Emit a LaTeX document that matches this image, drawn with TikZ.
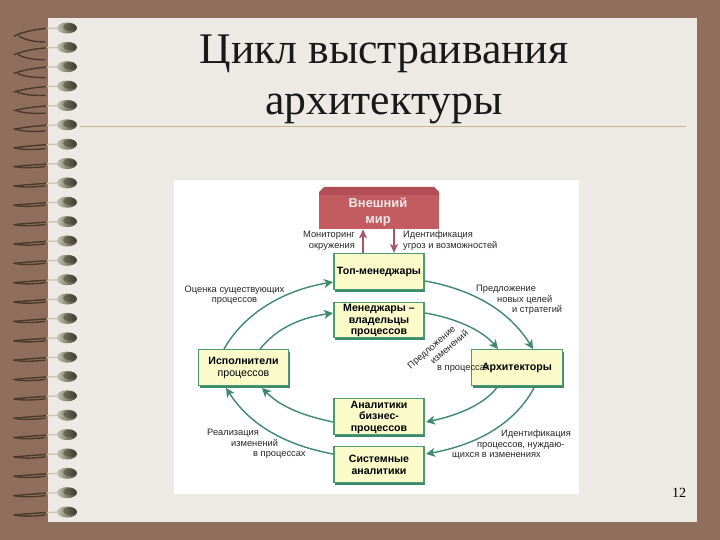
\documentclass[tikz,border=0pt]{standalone}
\usepackage{fontspec}
\setmainfont{Liberation Serif}
\newfontfamily\lsans{Liberation Sans}
\usetikzlibrary{arrows.meta,shadows,calc}
\definecolor{bgbrown}{HTML}{8F6F5B}
\definecolor{paper}{HTML}{EDE9E5}
\definecolor{rulec}{HTML}{C9B791}
\definecolor{gline}{HTML}{3E8A6C}
\definecolor{gbox}{HTML}{4A9A74}
\definecolor{yfill}{HTML}{FBFBC9}
\definecolor{redbox}{HTML}{C35C60}
\definecolor{redtop}{HTML}{B24E55}
\definecolor{redarr}{HTML}{A8556A}
\definecolor{wired}{HTML}{4A3A2C}
\definecolor{wirel}{HTML}{C9C6B4}
\definecolor{blobd}{HTML}{3C3A2C}
\definecolor{blobl}{HTML}{C4C2AC}
\tikzset{
  ybox/.style={draw=gbox,line width=1.3pt,fill=yfill,minimum width=#1,inner sep=0pt,align=center,
    font=\lsans\bfseries\fontsize{10.6}{12}\selectfont,
    general shadow={fill=gline,shadow xshift=1.4pt,shadow yshift=-2.2pt}},
  boxtext/.style={inner sep=0pt,align=center,font=\lsans\bfseries\fontsize{10.6}{11.5}\selectfont},
  lab/.style={font=\lsans\fontsize{9.3}{10.5}\selectfont,inner sep=0pt,text=black!85},
  garr/.style={draw=gline,line width=1.4pt,-{Stealth[length=9pt,width=9pt,inset=2.5pt]}},
  rarr/.style={draw=redarr,line width=1.4pt,-{Stealth[length=9pt,width=8pt,inset=2.5pt]}},
  titlefont/.style={font=\fontsize{43.7}{51}\selectfont,inner sep=0pt,align=center,text=black!90},
}
\begin{document}
\begin{tikzpicture}[x=1pt,y=-1pt]
\useasboundingbox (0,0) rectangle (720,540);
\fill[bgbrown] (0,0) rectangle (720,540);
\fill[paper] (48,18) rectangle (697,522);
% spiral binding
\foreach \i in {0,...,25}{
  \pgfmathsetmacro{\yy}{28+19.36*\i}
  \pgfmathsetmacro{\op}{max(0,1-\i/7)}
  \draw[wired,line width=1.4pt,line cap=round] (14,\yy+3+5*\op) .. controls (25,\yy+2+1*\op) and (38,\yy+1) .. (47,\yy+0.5);
  \draw[wirel,line width=1.3pt,line cap=round] (47,\yy+0.5) -- (60,\yy);
  \draw[wired,line width=1.4pt,line cap=round] (14+5*\op,\yy+3+5*\op) .. controls (24,\yy+5+7*\op) and (36,\yy+4+10*\op) .. (45,\yy+3+11*\op);
  \shade[left color=blobl,right color=blobd,middle color=blobl!55!blobd] (67,\yy) ellipse [x radius=10,y radius=5.5];
  \fill[blobd,opacity=.5] (69.5,\yy-1) ellipse [x radius=6.5,y radius=3.8];
}
% title
\node[titlefont] (title) at (384,79) {Цикл выстраивания\\архитектуры};
\draw[rulec,line width=0.7pt] (80,126) -- (686,126);
% diagram sheet
\fill[white] (174,180) rectangle (579,494);
% external world
\fill[redtop] (319,199) -- (319,192) -- (324,187) -- (434,187) -- (439,192) -- (439,199) -- cycle;
\node[fill=redbox,minimum width=120pt,minimum height=34pt,inner sep=0pt,anchor=north west] (world) at (319,195) {};
\node[inner sep=0pt,align=center,text=paper,font=\lsans\bfseries\fontsize{12.9}{16.5}\selectfont] (worldt) at (378,212) {Внешний\\мир};
% boxes
\node[ybox=90pt,minimum height=36pt] (top) at (379,271.5) {Топ-менеджары};
\node[ybox=90pt,minimum height=35pt] (mgr) at (379,320) {};
\node[boxtext] (mgrt) at (379,320.5) {Менеджары –\\владельцы\\процессов};
\node[ybox=90pt,minimum height=36pt] (exec) at (243.5,367.5) {Исполнители\\\mdseries процессов};
\node[ybox=91pt,minimum height=36pt] (arch) at (517,367.5) {Архитекторы};
\node[ybox=90pt,minimum height=36pt] (anal) at (379,416.5) {};
\node[boxtext] (analt) at (379,417) {Аналитики\\бизнес-\\процессов};
\node[ybox=90pt,minimum height=36pt] (sys) at (379,464.5) {Системные\\аналитики};
% connectors
\draw[rarr] (top.north -| 363,0) -- (world.south -| 363,0);
\draw[rarr] (world.south -| 394,0) -- (top.north -| 394,0);
\coordinate (a1) at (224,349); \coordinate (a2) at (333,282);
\coordinate (b1) at (260,349); \coordinate (b2) at (333,313);
\coordinate (c1) at (425,281); \coordinate (c2) at (533,349);
\coordinate (d1) at (425,313); \coordinate (d2) at (498,349);
\coordinate (e1) at (498,386); \coordinate (e2) at (426,422);
\coordinate (f1) at (535,386); \coordinate (f2) at (426,454);
\coordinate (g1) at (333,454); \coordinate (g2) at (226,388);
\coordinate (h1) at (333,422); \coordinate (h2) at (262,388);
\draw[garr] (a1) .. controls (245,312) and (285,290) .. (a2);
\draw[garr] (b1) .. controls (277,328) and (300,318) .. (b2);
\draw[garr] (c1) .. controls (475,290) and (510,312) .. (c2);
\draw[garr] (d1) .. controls (455,318) and (482,330) .. (d2);
\draw[garr] (e1) .. controls (485,405) and (455,416) .. (e2);
\draw[garr] (f1) .. controls (515,425) and (475,445) .. (f2);
\draw[garr] (g1) .. controls (285,445) and (250,425) .. (g2);
\draw[garr] (h1) .. controls (305,416) and (282,408) .. (h2);
% labels
\node[lab,align=right,anchor=north east] (l1) at (355,231) {Мониторинг\\окружения};
\node[lab,align=left,anchor=north west] (l2) at (403,231) {Идентификация\\угроз и возможностей};
\node[lab,align=center] (l3) at (234.5,295) {Оценка существующих\\процессов};
\node[lab,align=left,anchor=north west] (l4) at (476,285) {Предложение\\\hspace*{21pt}новых целей\\\hspace*{36pt}и стратегий};
\node[lab,align=left,anchor=north west] (l5) at (207,429) {Реализация\\\hspace*{24pt}изменений\\\hspace*{46pt}в процессах};
\node[lab,align=left,anchor=north west] (l6) at (452,430) {\hspace*{49pt}Идентификация\\\hspace*{25pt}процессов, нуждаю-\\щихся в изменениях};
\node[lab,rotate=41] (l7) at (432,348) {Предложение};
\node[lab,rotate=41] (l8) at (449,347) {изменений};
\node[lab,anchor=west] (l9) at (437,368.5) {в процессах};
% page number
\node[font=\fontsize{14}{16}\selectfont,inner sep=0pt] (pg) at (679,493) {12};
\end{tikzpicture}
\end{document}
